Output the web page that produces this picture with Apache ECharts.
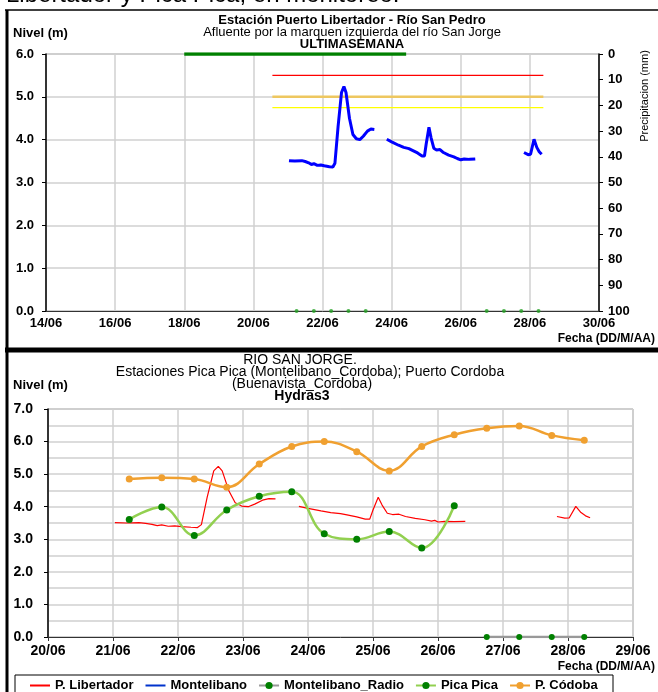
<!DOCTYPE html>
<html>
<head>
<meta charset="utf-8">
<script src="https://cdn.jsdelivr.net/npm/echarts@6/dist/echarts.min.js"></script>
<style>
  html, body { margin: 0; padding: 0; background: #fff; }
  #chart { width: 658px; height: 692px; }
</style>
</head>
<body>
<div id="chart"></div>
<script>
// day of June -> level (m); '-' breaks the line
const libertador = [
  [21.03, 3.51], [21.2, 3.50], [21.4, 3.51], [21.5, 3.49], [21.6, 3.46], [21.68, 3.42],
  [21.75, 3.44], [21.85, 3.40], [21.95, 3.41], [22.05, 3.39], [22.2, 3.37], [22.3, 3.36],
  [22.36, 3.45], [22.45, 4.3], [22.55, 5.1], [22.62, 5.24], [22.68, 5.1], [22.78, 4.5],
  [22.88, 4.12], [22.98, 4.02], [23.08, 4.0], [23.18, 4.08], [23.3, 4.2], [23.4, 4.25],
  [23.5, 4.24], [23.7, '-'],
  [23.86, 4.01], [24.0, 3.95], [24.2, 3.87], [24.35, 3.82], [24.5, 3.79], [24.6, 3.75],
  [24.75, 3.69], [24.88, 3.62], [24.95, 3.62], [25.0, 3.9], [25.08, 4.29], [25.14, 4.05],
  [25.22, 3.80], [25.3, 3.76], [25.4, 3.77], [25.5, 3.70], [25.65, 3.64], [25.8, 3.60],
  [25.9, 3.56], [25.95, 3.58], [26.0, 3.53], [26.1, 3.55], [26.25, 3.54], [26.42, 3.55],
  [27.0, '-'],
  [27.83, 3.70], [27.95, 3.65], [28.02, 3.66], [28.12, 4.01], [28.2, 3.82], [28.27, 3.72],
  [28.34, 3.66]
]

// alert levels (m) drawn over this date span
const alertDays = [20.55, 28.39]
const redAlert = 5.5
const orangeAlert = 5.0
const yellowAlert = 4.75

// precipitation (mm)
const rainDays = [18, 24.42]
const rainValues = [0, 0]

const zeroDaysTop = [21.25, 21.75, 22.25, 22.75, 23.25, 26.75, 27.25, 27.75, 28.25]

const picaDays = [21.25, 21.75, 22.25, 22.75, 23.25, 23.75, 24.25, 24.75, 25.25, 25.75, 26.25]
const picaLevels = [3.61, 3.99, 3.12, 3.90, 4.32, 4.46, 3.17, 3.00, 3.24, 2.73, 4.03]

const cordobaDays = [21.25, 21.75, 22.25, 22.75, 23.25, 23.75, 24.25, 24.75, 25.25, 25.75,
  26.25, 26.75, 27.25, 27.75, 28.25]
const cordobaLevels = [4.85, 4.89, 4.85, 4.60, 5.31, 5.85, 6.00, 5.69, 5.10, 5.85,
  6.21, 6.41, 6.48, 6.19, 6.04]

const radioDays = [26.75, 27.25, 27.75, 28.25]
const radioLevels = [0, 0, 0, 0]

const FONT = 'Liberation Sans, Arial, sans-serif'

function pairs(xs, ys) {
  return xs.map((x, i) => [x, ys[i]])
}
function dayLabel(v) {
  return (v < 10 ? '0' : '') + v + '/06'
}
function txt(x, y, text, opts) {
  return {
    type: 'text', x: x, y: y, silent: true,
    style: Object.assign({
      text: text, fill: '#000', font: '12px ' + FONT,
      align: 'center', verticalAlign: 'middle'
    }, opts || {})
  }
}
function line(x1, y1, x2, y2, w) {
  return {
    type: 'line', silent: true,
    shape: { x1: x1, y1: y1, x2: x2, y2: y2 },
    style: { stroke: '#000', lineWidth: w }
  }
}

const chart = echarts.init(document.getElementById('chart'), null, { renderer: 'canvas' })

const boldLabel = (size) => ({ color: '#000', fontFamily: FONT, fontWeight: 'bold', fontSize: size })

chart.setOption({
  animation: false,
  backgroundColor: '#fff',
  grid: [
    { left: 46, top: 54, width: 553, height: 257, show: true, borderColor: '#999', borderWidth: 1 },
    { left: 48, top: 409, width: 585, height: 228, show: true, borderColor: '#999', borderWidth: 1 }
  ],
  xAxis: [
    {
      gridIndex: 0, type: 'value', min: 14, max: 30, interval: 2,
      axisLine: { lineStyle: { color: '#333', width: 1 } },
      axisTick: { show: false },
      axisLabel: Object.assign(boldLabel(13), { margin: 6, formatter: dayLabel }),
      splitLine: { show: true, lineStyle: { color: '#d0d0d0', width: 1.5 } }
    },
    {
      gridIndex: 1, type: 'value', min: 20, max: 29, interval: 1,
      axisLine: { lineStyle: { color: '#333', width: 1 } },
      axisTick: { show: true, length: 4, lineStyle: { color: '#333' } },
      axisLabel: Object.assign(boldLabel(14), { margin: 7, formatter: dayLabel }),
      splitLine: { show: true, lineStyle: { color: '#d0d0d0', width: 1.5 } }
    }
  ],
  yAxis: [
    {
      gridIndex: 0, type: 'value', min: 0, max: 6, interval: 1,
      axisLine: { show: true, lineStyle: { color: '#000', width: 1.5 } },
      axisTick: { show: true, length: 4, lineStyle: { color: '#000' } },
      axisLabel: Object.assign(boldLabel(13), { margin: 12, formatter: v => v.toFixed(1) }),
      splitLine: { show: true, lineStyle: { color: '#d0d0d0', width: 1.5 } }
    },
    {
      gridIndex: 0, type: 'value', min: 0, max: 100, interval: 10, inverse: true, position: 'right',
      axisLine: { show: true, lineStyle: { color: '#000', width: 1.5 } },
      axisTick: { show: true, length: 4, lineStyle: { color: '#000' } },
      axisLabel: Object.assign(boldLabel(13), { margin: 9 }),
      splitLine: { show: false }
    },
    {
      gridIndex: 1, type: 'value', min: 0, max: 7, interval: 1,
      axisLine: { show: true, lineStyle: { color: '#000', width: 1.5 } },
      axisTick: { show: true, length: 4, lineStyle: { color: '#000' } },
      minorTick: { show: false, splitNumber: 2 },
      axisLabel: Object.assign(boldLabel(14), { margin: 15, formatter: v => v.toFixed(1) }),
      splitLine: { show: true, lineStyle: { color: '#d0d0d0', width: 1.5 } },
      minorSplitLine: { show: true, lineStyle: { color: '#d0d0d0', width: 1.5 } }
    }
  ],
  legend: {
    left: 24, top: 674, itemWidth: 20, itemHeight: 9, itemGap: 11,
    textStyle: { color: '#000', fontFamily: FONT, fontWeight: 'bold', fontSize: 13 },
    data: [
      { name: 'P. Libertador', itemStyle: { opacity: 0 } },
      { name: 'Montelibano', itemStyle: { opacity: 0 } },
      'Montelibano_Radio', 'Pica Pica', 'P. Códoba'
    ]
  },
  series: [
    // ---- top chart
    {
      name: 'alerta roja', type: 'line', xAxisIndex: 0, yAxisIndex: 0, showSymbol: false,
      lineStyle: { color: '#ff0000', width: 1.3 },
      data: alertDays.map(d => [d, redAlert])
    },
    {
      name: 'alerta naranja', type: 'line', xAxisIndex: 0, yAxisIndex: 0, showSymbol: false,
      lineStyle: { color: '#eec75f', width: 2.5 },
      data: alertDays.map(d => [d, orangeAlert])
    },
    {
      name: 'alerta amarilla', type: 'line', xAxisIndex: 0, yAxisIndex: 0, showSymbol: false,
      lineStyle: { color: '#ffff00', width: 1.3 },
      data: alertDays.map(d => [d, yellowAlert])
    },
    {
      name: 'precipitacion', type: 'line', xAxisIndex: 0, yAxisIndex: 1, showSymbol: false,
      lineStyle: { color: '#008000', width: 3.5 },
      data: pairs(rainDays, rainValues)
    },
    {
      name: 'nivel libertador', type: 'line', xAxisIndex: 0, yAxisIndex: 0, showSymbol: false,
      lineStyle: { color: '#0000ff', width: 3 },
      data: libertador
    },
    {
      name: 'pica top', type: 'scatter', xAxisIndex: 0, yAxisIndex: 0,
      symbolSize: 4, itemStyle: { color: '#22a022' },
      data: zeroDaysTop.map(d => [d, 0])
    },
    // ---- bottom chart
    {
      name: 'P. Libertador', type: 'line', xAxisIndex: 1, yAxisIndex: 2, showSymbol: false,
      itemStyle: { color: '#ff0000' },
      lineStyle: { color: '#ff0000', width: 1.2 },
      data: libertador
    },
    {
      name: 'Montelibano', type: 'line', xAxisIndex: 1, yAxisIndex: 2, showSymbol: false,
      itemStyle: { color: '#0033cc' }, lineStyle: { color: '#0033cc', width: 2.5 },
      data: []
    },
    {
      name: 'Montelibano_Radio', type: 'line', xAxisIndex: 1, yAxisIndex: 2,
      symbol: 'circle', symbolSize: 6,
      itemStyle: { color: '#008000' }, lineStyle: { color: '#999', width: 2.5 },
      data: pairs(radioDays, radioLevels)
    },
    {
      name: 'Pica Pica', type: 'line', xAxisIndex: 1, yAxisIndex: 2, smooth: 0.4,
      symbol: 'circle', symbolSize: 7,
      itemStyle: { color: '#008000' }, lineStyle: { color: '#92d050', width: 2.5 },
      data: pairs(picaDays, picaLevels)
    },
    {
      name: 'P. Códoba', type: 'line', xAxisIndex: 1, yAxisIndex: 2, smooth: 0.4,
      symbol: 'circle', symbolSize: 7,
      itemStyle: { color: '#f0a030' }, lineStyle: { color: '#f0a030', width: 2.5 },
      data: pairs(cordobaDays, cordobaLevels)
    }
  ],
  graphic: [
    txt(6, -5, 'Libertador y Pica Pica, en monitoreo.', { font: '24px ' + FONT, align: 'left' }),
    line(5, 10, 658, 10, 1.5),
    line(7, 10, 7, 692, 3),
    line(5, 350, 658, 350, 5),
    // top chart texts
    txt(352, 20, 'Estación Puerto Libertador - Río San Pedro', { font: 'bold 13px ' + FONT }),
    txt(352, 32, 'Afluente por la marquen izquierda del río San Jorge', { font: '13px ' + FONT }),
    txt(352, 44, 'ULTIMASEMANA', { font: 'bold 13px ' + FONT }),
    txt(13, 33, 'Nivel (m)', { font: 'bold 13px ' + FONT, align: 'left' }),
    txt(655, 339, 'Fecha (DD/M/AA)', { font: 'bold 12px ' + FONT, align: 'right' }),
    {
      type: 'text', x: 645, y: 96, rotation: Math.PI / 2, silent: true,
      style: { text: 'Precipitacion (mm)', fill: '#000', font: '11px ' + FONT, align: 'center', verticalAlign: 'middle' }
    },
    // bottom chart texts
    txt(300, 360, 'RIO SAN JORGE.', { font: '14px ' + FONT }),
    txt(310, 372, 'Estaciones Pica Pica (Montelibano_Cordoba); Puerto Cordoba', { font: '14px ' + FONT }),
    txt(302, 384, '(Buenavista_Cordoba)', { font: '14px ' + FONT }),
    txt(302, 396, 'Hydras3', { font: 'bold 14px ' + FONT }),
    txt(13, 385, 'Nivel (m)', { font: 'bold 13px ' + FONT, align: 'left' }),
    txt(655, 667, 'Fecha (DD/M/AA)', { font: 'bold 12px ' + FONT, align: 'right' }),
    {
      type: 'rect', silent: true,
      shape: { x: 15, y: 675, width: 598, height: 30 },
      style: { fill: 'none', stroke: '#000', lineWidth: 1 }
    }
  ]
})
</script>
</body>
</html>
